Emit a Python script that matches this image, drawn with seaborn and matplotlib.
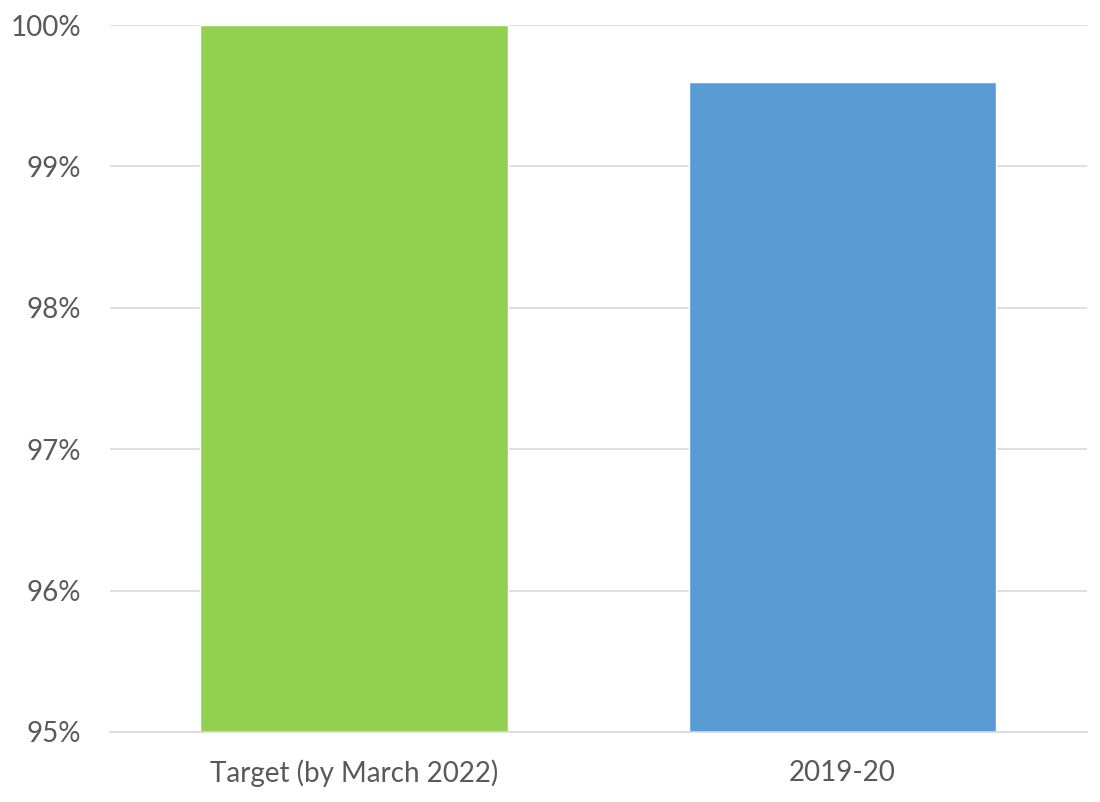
import matplotlib
matplotlib.use('Agg')
import matplotlib.pyplot as plt
import seaborn as sns
import pandas as pd
from matplotlib.ticker import FuncFormatter

# Chart data
categories = ['Target (by March 2022)', '2019-20']
values = [100.0, 99.6]
bar_colors = ['#92D050', '#5B9BD5']

sns.set_style('white')
plt.rcParams['font.family'] = ['Lato', 'DejaVu Sans']

df = pd.DataFrame({'label': categories, 'value': values})

fig = plt.figure(figsize=(11, 8.02), dpi=100)
ax = fig.add_axes([0.1, 0.0873, 0.888, 0.8815])

sns.barplot(data=df, x='label', y='value', hue='label', palette=bar_colors,
            width=0.63, saturation=1, legend=False, ax=ax, zorder=2)

ax.set_ylim(95, 100)
ax.set_yticks([95, 96, 97, 98, 99, 100])
ax.yaxis.set_major_formatter(FuncFormatter(lambda v, p: f'{v:.0f}%'))
ax.grid(axis='y', color='#D9D9D9', linewidth=1.2, zorder=0)
ax.set_axisbelow(True)

for s in ['top', 'right', 'left']:
    ax.spines[s].set_visible(False)
ax.spines['bottom'].set_color('#D9D9D9')
ax.spines['bottom'].set_linewidth(1.2)

ax.tick_params(axis='both', length=0, labelsize=20, labelcolor='#595959')
ax.tick_params(axis='y', pad=21)
ax.tick_params(axis='x', pad=20)
ax.set_xlabel('')
ax.set_ylabel('')

fig.savefig('out.png', dpi=100)
